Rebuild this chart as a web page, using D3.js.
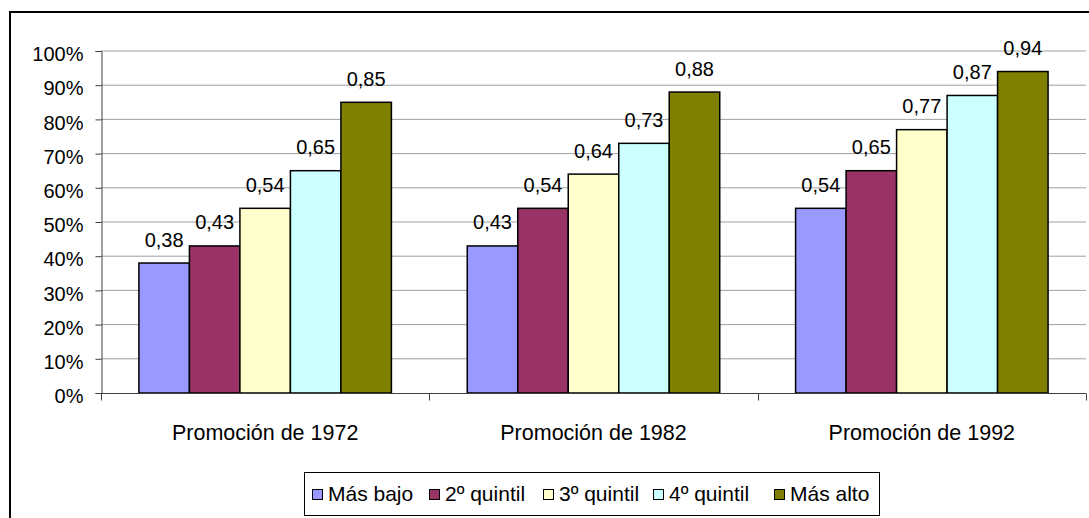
<!DOCTYPE html>
<html>
<head>
<meta charset="utf-8">
<script src="https://cdn.jsdelivr.net/npm/d3@7"></script>
<style>
  body { margin: 0; background: #fff; }
  svg { display: block; font-family: "Liberation Sans", Arial, sans-serif; }
</style>
</head>
<body>
<svg id="chart" width="1089" height="518"></svg>
<script>
// chart data
const categories = ["Promoción de 1972", "Promoción de 1982", "Promoción de 1992"];
const seriesNames = ["Más bajo", "2º quintil", "3º quintil", "4º quintil", "Más alto"];
const masBajo = [0.38, 0.43, 0.54];
const quintil2 = [0.43, 0.54, 0.65];
const quintil3 = [0.54, 0.64, 0.77];
const quintil4 = [0.65, 0.73, 0.87];
const masAlto = [0.85, 0.88, 0.94];
const yTicks = [0, 0.1, 0.2, 0.3, 0.4, 0.5, 0.6, 0.7, 0.8, 0.9, 1];
const colors = ["#9999FF", "#993366", "#FFFFCC", "#CCFFFF", "#808000"];

const seriesValues = [masBajo, quintil2, quintil3, quintil4, masAlto];

const svg = d3.select("#chart");
const plot = { left: 101, right: 1086, top: 51, bottom: 393 };

// outer chart border (right/bottom edges fall outside the picture)
svg.append("rect")
  .attr("x", 10).attr("y", 12)
  .attr("width", 1100).attr("height", 530)
  .attr("fill", "none").attr("stroke", "#000").attr("stroke-width", 2);

const x0 = d3.scaleBand()
  .domain(categories)
  .range([plot.left, plot.right])
  .paddingInner(0.231)
  .paddingOuter(0.1155);

const x1 = d3.scaleBand()
  .domain(seriesNames)
  .range([0, x0.bandwidth()])
  .padding(0);

const y = d3.scaleLinear()
  .domain([0, 1])
  .range([plot.bottom, plot.top]);

// gridlines
svg.append("g")
  .selectAll("line")
  .data(yTicks.filter(d => d > 0))
  .enter().append("line")
  .attr("x1", plot.left).attr("x2", plot.right)
  .attr("y1", d => y(d)).attr("y2", d => y(d))
  .attr("stroke", "#a0a0a0").attr("stroke-width", 1);

// y axis
const yAxis = svg.append("g")
  .attr("transform", `translate(${plot.left + 0.5},0)`)
  .call(d3.axisLeft(y).tickValues(yTicks).tickSize(6).tickPadding(12)
    .tickFormat(d => Math.round(d * 100) + "%"));
yAxis.select(".domain").attr("stroke", "#404040");
yAxis.selectAll(".tick line").attr("stroke", "#404040");
yAxis.selectAll(".tick text")
  .attr("font-size", 20).attr("font-family", "Liberation Sans, Arial, sans-serif")
  .attr("fill", "#000").attr("dy", "0.48em");

// bars
const groups = svg.append("g")
  .selectAll("g")
  .data(categories)
  .enter().append("g")
  .attr("transform", d => `translate(${x0(d)},0)`);

groups.selectAll("rect")
  .data((c, ci) => seriesNames.map((s, si) => ({ s, si, v: seriesValues[si][ci] })))
  .enter().append("rect")
  .attr("x", d => x1(d.s))
  .attr("y", d => y(d.v))
  .attr("width", x1.bandwidth())
  .attr("height", d => y(0) - y(d.v))
  .attr("fill", d => colors[d.si])
  .attr("stroke", "#000").attr("stroke-width", 1.5);

// value labels
groups.selectAll("text")
  .data((c, ci) => seriesNames.map((s, si) => ({ s, si, v: seriesValues[si][ci] })))
  .enter().append("text")
  .attr("x", d => x1(d.s) + x1.bandwidth() / 2)
  .attr("y", d => y(d.v) - 16.5)
  .attr("text-anchor", "middle")
  .attr("font-size", 20)
  .text(d => d.v.toFixed(2).replace(".", ","));

// x axis
const xAxis = svg.append("g")
  .attr("transform", `translate(0,${plot.bottom + 0.5})`);
xAxis.append("line")
  .attr("x1", plot.left).attr("x2", plot.right)
  .attr("stroke", "#404040");
const step = x0.step();
xAxis.selectAll("line.tick")
  .data(d3.range(categories.length + 1))
  .enter().append("line")
  .attr("class", "tick")
  .attr("x1", i => Math.round(plot.left + i * step) + 0.5)
  .attr("x2", i => Math.round(plot.left + i * step) + 0.5)
  .attr("y1", 0).attr("y2", 7)
  .attr("stroke", "#404040");
xAxis.selectAll("text")
  .data(categories)
  .enter().append("text")
  .attr("x", d => x0(d) + x0.bandwidth() / 2)
  .attr("y", 46)
  .attr("text-anchor", "middle")
  .attr("font-size", 21.5)
  .text(d => d);

// legend
const legend = svg.append("g");
legend.append("rect")
  .attr("x", 304.5).attr("y", 472.5)
  .attr("width", 575).attr("height", 43)
  .attr("fill", "#fff").attr("stroke", "#000").attr("stroke-width", 1);

const legendX = [312, 429, 543, 653, 774];
const items = legend.selectAll("g.item")
  .data(seriesNames)
  .enter().append("g")
  .attr("class", "item")
  .attr("transform", (d, i) => `translate(${legendX[i]},0)`);
items.append("rect")
  .attr("x", 0.5).attr("y", 489.5)
  .attr("width", 10).attr("height", 10)
  .attr("fill", (d, i) => colors[i])
  .attr("stroke", "#000").attr("stroke-width", 1);
items.append("text")
  .attr("x", 16).attr("y", 501)
  .attr("font-size", 21)
  .text(d => d);
</script>
</body>
</html>
